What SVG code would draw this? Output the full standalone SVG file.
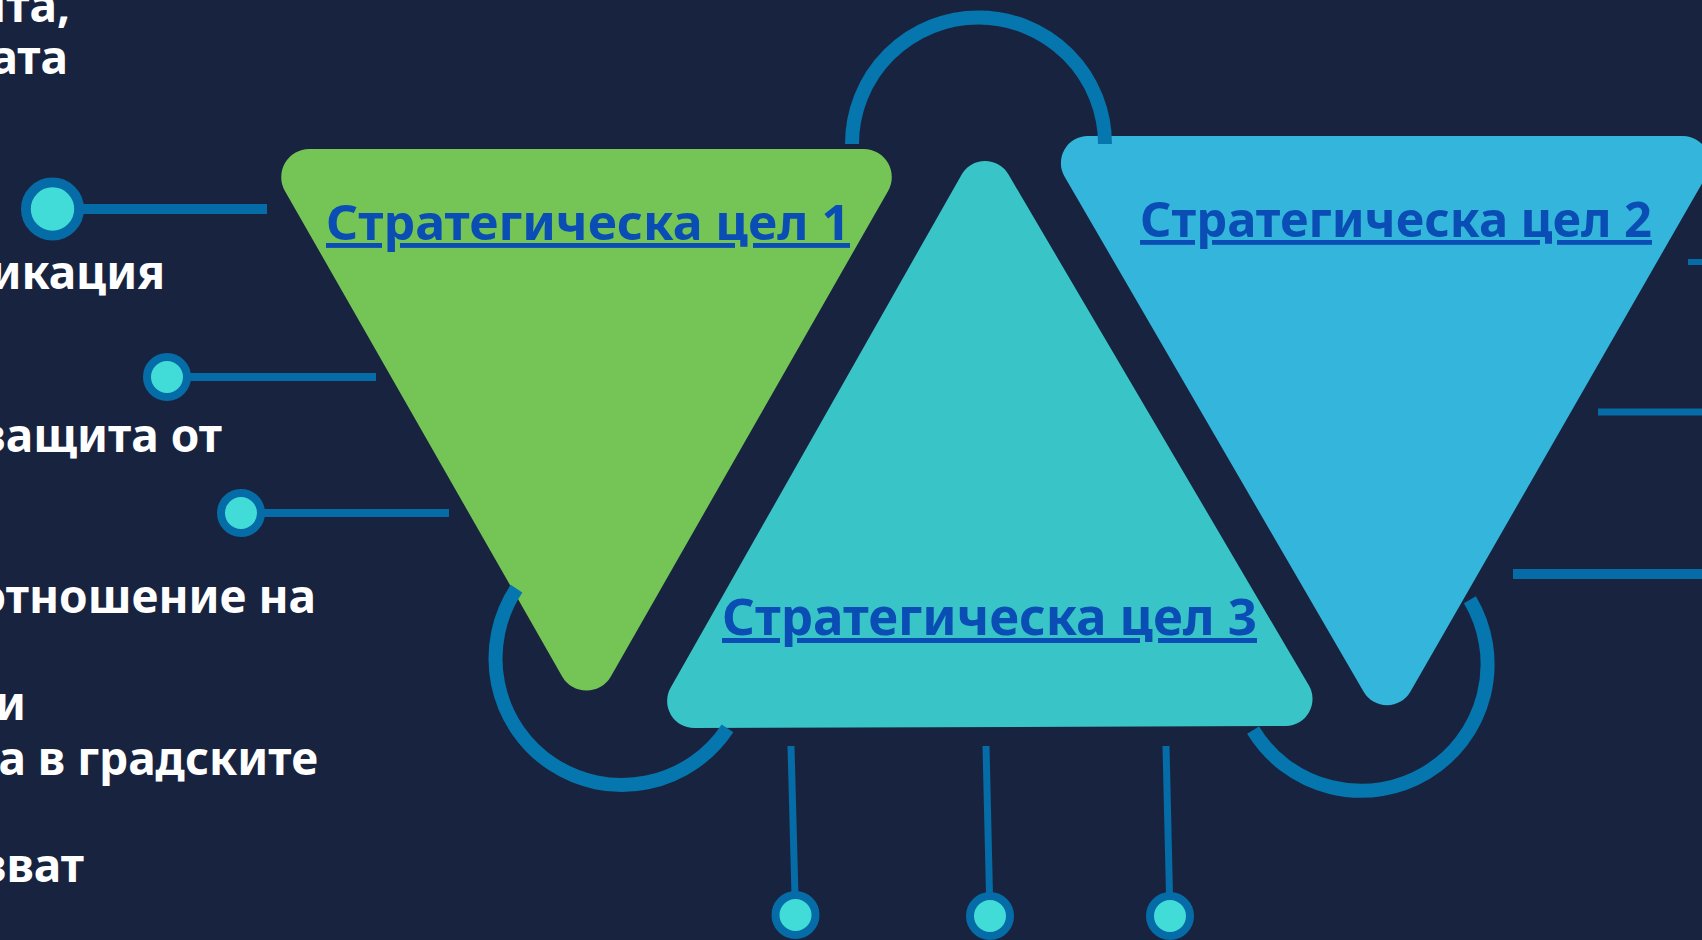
<svg xmlns="http://www.w3.org/2000/svg" width="1702" height="940" viewBox="0 0 1702 940">
<style>
.bg{fill:#18243f}
.title{font-family:"Noto Sans","Open Sans","DejaVu Sans",sans-serif;font-weight:700;fill:#0a4db4;text-decoration:underline}
.lbl{font-family:"Noto Sans","Open Sans","DejaVu Sans",sans-serif;font-weight:700;font-size:46px;fill:#ffffff;text-anchor:end}
.arc{fill:none;stroke:#0676ae;stroke-width:14}
.ln{stroke:#056ca8;fill:none}
.dot{fill:#41dcd8;stroke:#056ca8}
</style>
<rect class="bg" x="0" y="0" width="1702" height="940"/>
<g id="goal1">
<path fill="#74c556" d="M309.2,149 L863.8,149 A28,28 0 0 1 888.1,190.9 L610.85,676.4 A28,28 0 0 1 562.15,676.4 L284.9,190.9 A28,28 0 0 1 309.2,149 Z"/>
<text class="title" x="326" y="240" font-size="49" textLength="524" lengthAdjust="spacingAndGlyphs">Стратегическа цел 1</text>
</g>
<g id="goal2">
<path fill="#34b6dc" d="M1088,136 L1683,136 A27,27 0 0 1 1706,176.5 L1410.5,691.5 A27,27 0 0 1 1363.5,691.5 L1064.5,176.5 A27,27 0 0 1 1088,136 Z"/>
<text class="title" x="1140" y="237" font-size="48" textLength="512" lengthAdjust="spacingAndGlyphs">Стратегическа цел 2</text>
</g>
<g id="goal3" transform="rotate(-0.2 986 530)">
<path fill="#39c5c7" d="M1009.6,174.4 L1308.4,686.6 A27,27 0 0 1 1285.2,727 L693.8,727 A27,27 0 0 1 670.2,686.4 L962.8,174.6 A27,27 0 0 1 1009.6,174.4 Z"/>
</g>
<g id="goal3-label">
<text class="title" x="722" y="635" font-size="50" textLength="535" lengthAdjust="spacingAndGlyphs">Стратегическа цел 3</text>
</g>
<g id="connectors">
<path class="arc" d="M852,144 A126.5,126.5 0 0 1 1105,144"/>
<path class="arc" d="M516.5,588.7 A126.5,126.5 0 0 0 727.5,728.3"/>
<path class="arc" d="M1253.1,730.2 A126.5,126.5 0 0 0 1469.9,599.8"/>
<line class="ln" x1="52" y1="209" x2="267" y2="209" stroke-width="10"/>
<line class="ln" x1="167" y1="377" x2="376" y2="377" stroke-width="8"/>
<line class="ln" x1="241" y1="513" x2="449" y2="513" stroke-width="8"/>
<line class="ln" x1="791" y1="746" x2="795.5" y2="915" stroke-width="7"/>
<line class="ln" x1="986" y1="746" x2="990" y2="916" stroke-width="7"/>
<line class="ln" x1="1166" y1="746" x2="1170" y2="916" stroke-width="7"/>
<line class="ln" x1="1688" y1="262" x2="1702" y2="262" stroke-width="6"/>
<line class="ln" x1="1598" y1="412" x2="1702" y2="412" stroke-width="7"/>
<line class="ln" x1="1513" y1="574" x2="1702" y2="574" stroke-width="10"/>
</g>
<g id="dots">
<circle class="dot" cx="52.5" cy="209" r="26.6" stroke-width="9.8"/>
<circle class="dot" cx="167" cy="377" r="20" stroke-width="8"/>
<circle class="dot" cx="241" cy="513" r="20" stroke-width="8"/>
<circle class="dot" cx="795.5" cy="915" r="20" stroke-width="8"/>
<circle class="dot" cx="990" cy="916" r="20" stroke-width="8"/>
<circle class="dot" cx="1170" cy="916" r="20" stroke-width="8"/>
</g>
<g id="labels">
<text class="lbl" x="70" y="22">нта,</text>
<text class="lbl" x="68" y="74">ата</text>
<text class="lbl" x="165" y="289">икация</text>
<text class="lbl" x="222" y="452">защита от</text>
<text class="lbl" x="316" y="613">отношение на</text>
<text class="lbl" x="26" y="720">и</text>
<text class="lbl" x="318" y="775">ра в градските</text>
<text class="lbl" x="84" y="882">зват</text>
</g>
</svg>
